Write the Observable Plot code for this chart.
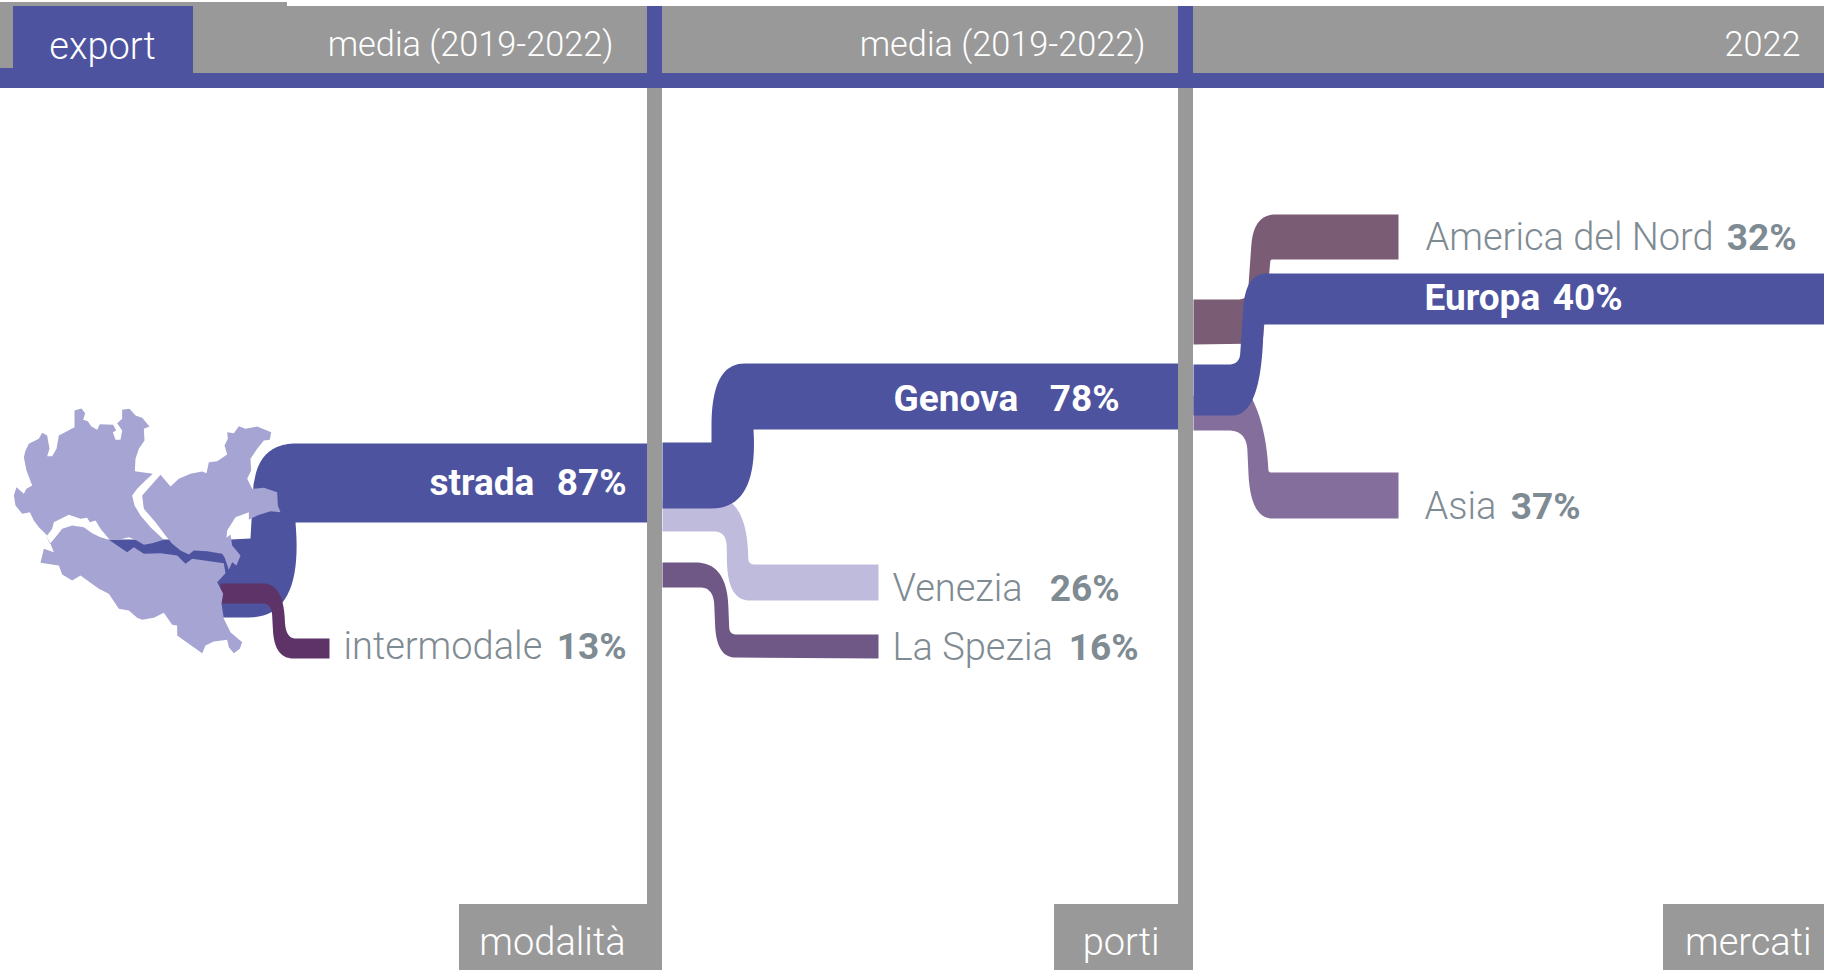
<!DOCTYPE html>
<html lang="it">
<head>
<meta charset="utf-8">
<title>export</title>
<script src="https://cdn.jsdelivr.net/npm/d3@7"></script>
<script src="https://cdn.jsdelivr.net/npm/@observablehq/plot@0.6"></script>
<style>
html,body{margin:0;padding:0;background:#fff;overflow:hidden}
svg{display:block;max-width:none}
</style>
</head>
<body>
<div id="chart"></div>
<script>
const BLUE = "#4d539f", GREY = "#999999", MAP = "#a6a4d3", TXT = "#7f8b93";

// Flow shares
const modalita = [["strada", 87], ["intermodale", 13]];
const porti = [["Genova", 78], ["Venezia", 26], ["La Spezia", 16]];
const mercati = [["America del Nord", 32], ["Europa", 40], ["Asia", 37]];
const headers = ["media (2019-2022)", "media (2019-2022)", "2022"];
const footers = ["modalità", "porti", "mercati"];

// Ribbon outlines in the chart's own x / y units: [x, y, run-in, run-out] of each rounded corner
const stradaBand = [[108,539],[230,539],[250,538],[253,484],[257,465,10,10],[268,450,10,10],[285,443,10,10],[647,443],[647,522],[295,522],[302,617,90,54],[221,617],[210,585],[140,570],[108,541]];
const intermodaleBand = [[220,583],[283,583,21,37],[285,638,18,10],[329,638],[329,658],[274,658,19,28],[271,603,12,9],[220,603]];
const genovaBand = [[662,442],[711,442],[711,363,62,33],[1178,363],[1178,429],[753,429],[758,508,79,47],[662,508]];
const veneziaBand = [[662,500],[728,500],[746,512,30,40],[748,564,6,6],[878,564],[878,600],[727,600,22,40],[726,531,16,12],[662,531]];
const speziaBand = [[662,562],[726,562,31,43],[729,634,7,7],[878,634],[878,658],[716,657,19,32],[713,587,18,13],[662,587]];
const europaBand = [[1193,364],[1239,364,11,11],[1245,273,35,21],[1824,273],[1824,324],[1263,324],[1262,415,91,30],[1193,415]];
const americaBand = [[1193,299],[1247,299,10,8],[1253,214,31,22],[1398,214],[1398,259],[1270,259,2,2],[1262,343],[1193,344]];
const asiaBand = [[1193,395],[1250,395],[1266,425,34,47],[1268,472,3,3],[1398,472],[1398,518],[1250,518,22,45],[1246,430,20,18],[1193,430]];

// Region outlines (Lombardia, Veneto, Emilia-Romagna), chart units relative to the map origin
const lombardia = [[222,90],[243,84],[254,98],[248,118],[262,122],[272,137],[290,148],[298,131],[338,133],[347,150],[337,155],[345,178],[360,178],[365,150],[350,128],[365,115],[365,88],[387,85],[405,105],[425,112],[447,138],[430,145],[432,180],[415,205],[405,235],[403,272],[457,280],[435,300],[410,325],[395,345],[402,375],[420,405],[450,440],[490,478],[455,488],[430,493],[405,478],[385,470],[355,478],[325,475],[300,445],[285,420],[268,425],[260,412],[240,415],[205,403],[160,425],[155,445],[140,465],[135,460],[115,440],[100,420],[88,395],[65,400],[45,375],[40,345],[48,320],[70,340],[78,325],[95,315],[78,270],[70,230],[75,210],[85,190],[115,175],[125,157],[140,165],[147,205],[140,227],[155,227],[168,205],[175,165],[222,140]];
const veneto = [[480,283],[510,318],[535,295],[570,280],[605,273],[618,278],[625,245],[650,242],[680,222],[672,195],[682,175],[680,155],[700,158],[715,137],[735,145],[770,138],[812,155],[808,178],[790,180],[770,205],[750,235],[752,270],[740,295],[755,325],[790,322],[830,335],[832,375],[840,395],[810,392],[770,405],[745,418],[745,395],[705,410],[680,450],[678,472],[690,462],[695,495],[720,525],[708,555],[695,545],[685,568],[672,530],[665,520],[620,512],[580,510],[565,522],[540,510],[515,490],[495,465],[465,425],[430,385],[425,345]];
const emilia = [[135,462],[150,490],[160,515],[130,505],[120,547],[175,555],[185,582],[215,600],[240,585],[295,625],[325,640],[355,685],[385,690],[410,712],[425,718],[460,712],[490,697],[515,733],[530,735],[530,765],[605,818],[615,795],[640,783],[680,778],[685,800],[700,818],[718,805],[725,785],[690,755],[670,715],[663,670],[668,640],[650,605],[675,578],[670,548],[575,535],[555,550],[530,525],[480,518],[430,520],[400,500],[380,515],[325,478],[300,470],[275,458],[250,440],[215,435],[185,445],[165,470],[148,490]];

// Turn a control outline into a polygon with filleted corners
function smooth(band) {
  const out = [], n = band.length;
  band.forEach((p, i) => {
    const r = p[2] || 0, r2 = p[3] || r;
    if (!r) { out.push({x: p[0], y: p[1]}); return; }
    const a = band[(i - 1 + n) % n], b = band[(i + 1) % n];
    const la = Math.hypot(a[0] - p[0], a[1] - p[1]), lb = Math.hypot(b[0] - p[0], b[1] - p[1]);
    const ra = Math.min(r, la) / la, rb = Math.min(r2, lb) / lb;
    const s = [p[0] + (a[0] - p[0]) * ra, p[1] + (a[1] - p[1]) * ra];
    const e = [p[0] + (b[0] - p[0]) * rb, p[1] + (b[1] - p[1]) * rb];
    d3.range(0, 1.001, 0.05).forEach(t => out.push({
      x: (1 - t) ** 2 * s[0] + 2 * t * (1 - t) * p[0] + t * t * e[0],
      y: (1 - t) ** 2 * s[1] + 2 * t * (1 - t) * p[1] + t * t * e[1]
    }));
  });
  return out;
}
const ribbon = (band, fill) => Plot.line(smooth(band), {x: "x", y: "y", fill, stroke: "none", curve: "linear"});
const region = (shape) => Plot.line(shape.map(([x, y]) => ({x: x / 3, y: 380 + y / 3})), {x: "x", y: "y", fill: MAP, stroke: "none", curve: "linear"});

// Frame pieces
const greyBoxes = [
  {x1: 0, x2: 287, y1: 2, y2: 74}, {x1: 0, x2: 1824, y1: 6, y2: 74},
  {x1: 647, x2: 662, y1: 74, y2: 970}, {x1: 1178, x2: 1193, y1: 74, y2: 970},
  {x1: 459, x2: 662, y1: 904, y2: 970}, {x1: 1054, x2: 1193, y1: 904, y2: 970}, {x1: 1663, x2: 1824, y1: 904, y2: 970}
];
const blueBoxes = [
  {x1: 0, x2: 13, y1: 68, y2: 86}, {x1: 0, x2: 1824, y1: 73, y2: 88}, {x1: 13, x2: 193, y1: 6, y2: 88},
  {x1: 647, x2: 662, y1: 6, y2: 74}, {x1: 1178, x2: 1193, y1: 6, y2: 74}
];

const T = {fontFamily: "Roboto", lineAnchor: "bottom"};
const LIGHT = {...T, fontSize: 38, fontWeight: 300};
const BOLD = {...T, fontSize: 37, fontWeight: 700};
const row = (name, value, xn, xv, y) => ({name, value: value + "%", xn, xv, y});

const lightRows = [
  row(modalita[1][0], modalita[1][1], 343, 626, 658),
  row(porti[1][0], porti[1][1], 892, 1119, 600),
  row(porti[2][0], porti[2][1], 892, 1138, 659),
  row(mercati[0][0], mercati[0][1], 1425, 1796, 249),
  row(mercati[2][0], mercati[2][1], 1424, 1580, 518)
];
const boldRows = [
  row(modalita[0][0], modalita[0][1], 429, 626, 494),
  row(porti[0][0], porti[0][1], 893, 1119, 410),
  row(mercati[1][0], mercati[1][1], 1424, 1622, 309)
];

const chart = Plot.plot({
  width: 1824, height: 970,
  margin: 0, marginTop: 0, marginRight: 0, marginBottom: 0, marginLeft: 0,
  style: {background: "#fff"},
  x: {domain: [0, 1824], range: [0, 1824], axis: null},
  y: {domain: [0, 970], range: [0, 970], axis: null},
  marks: [
    ribbon(stradaBand, BLUE),
    ribbon(intermodaleBand, "#5e3368"),
    region(lombardia), region(veneto), region(emilia),
    ribbon(veneziaBand, "#bfbbdd"),
    ribbon(speziaBand, "#6f5886"),
    ribbon(genovaBand, BLUE),
    ribbon(americaBand, "#7a5d75"),
    ribbon(asiaBand, "#846f9c"),
    ribbon(europaBand, BLUE),
    Plot.rect(greyBoxes, {x1: "x1", x2: "x2", y1: "y1", y2: "y2", fill: GREY}),
    Plot.rect(blueBoxes, {x1: "x1", x2: "x2", y1: "y1", y2: "y2", fill: BLUE}),
    Plot.text(["export"], {...LIGHT, x: 102, y: 58, text: d => d, fill: "#fff", textAnchor: "middle"}),
    Plot.text(headers, {...LIGHT, fontSize: 34.3, x: (d, i) => [613, 1145, 1800][i], y: 55, text: d => d, fill: "#fff", textAnchor: "end"}),
    Plot.text(footers, {...LIGHT, x: (d, i) => [625, 1159, 1811][i], y: 954, text: d => d, fill: "#fff", textAnchor: "end"}),
    Plot.text(lightRows, {...LIGHT, x: "xn", y: "y", text: "name", fill: TXT, textAnchor: "start"}),
    Plot.text(lightRows, {...BOLD, x: "xv", y: "y", text: "value", fill: TXT, textAnchor: "end"}),
    Plot.text(boldRows, {...BOLD, x: "xn", y: "y", text: "name", fill: "#fff", textAnchor: "start"}),
    Plot.text(boldRows, {...BOLD, x: "xv", y: "y", text: "value", fill: "#fff", textAnchor: "end"})
  ]
});
document.getElementById("chart").append(chart);
</script>
</body>
</html>
